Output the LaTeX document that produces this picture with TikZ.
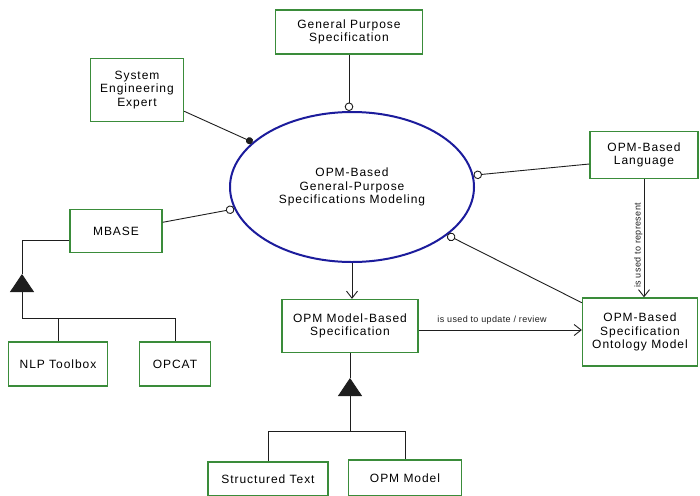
\documentclass[tikz,border=0pt]{standalone}
\usepackage{fontspec}
\setmainfont{Liberation Sans}
\newfontfamily\boxfont[LetterSpace=8]{Liberation Sans}
\newfontfamily\linkfont[LetterSpace=4]{Liberation Sans}
\usepackage{xcolor}
\usepackage{tikz}
\usetikzlibrary{arrows.meta}
\usetikzlibrary{shapes.geometric}
\usetikzlibrary{calc}
\usetikzlibrary{positioning}

\definecolor{objgreen}{RGB}{58,140,58}
\definecolor{procblue}{RGB}{28,28,156}
\definecolor{linkgray}{RGB}{30,30,30}

\begin{document}
\begin{tikzpicture}[x=1pt,y=-1pt,
	object/.style={draw=objgreen,line width=1.3pt,fill=white,align=center,inner sep=0pt,font=\boxfont\fontsize{12}{13.5}\selectfont},
	process/.style={ellipse,draw=procblue,line width=2pt,fill=white,align=center,inner sep=0pt,font=\boxfont\fontsize{12}{13.5}\selectfont},
	link/.style={draw=linkgray,line width=0.9pt},
	agent/.style={link,-{Circle[length=7pt]}},
	instr/.style={link,-{Circle[length=8.5pt,fill=white]}},
	result/.style={link,-{Straight Barb[length=7pt,width=11pt]}},
	gen/.style={link,-{Triangle[length=18pt,width=24pt]}},
	tag/.style={font=\linkfont\fontsize{9}{10}\selectfont,text=linkgray,inner sep=1pt}]
	\useasboundingbox (0,0) rectangle (700,495);

	\node[process,minimum width=244,minimum height=150] (opm) at (352,187) {OPM-Based\\General-Purpose\\Specifications Modeling};

	\node[object,minimum width=147,minimum height=44] (gps) at (349,32) {General Purpose\\Specification};
	\node[object,minimum width=93,minimum height=63] (expert) at (137,90) {System\\Engineering\\Expert};
	\node[object,minimum width=108,minimum height=47] (lang) at (644,155) {OPM-Based\\Language};
	\node[object,minimum width=92,minimum height=43] (mbase) at (116,231) {MBASE};
	\node[object,minimum width=136,minimum height=53] (mbs) at (350,326) {OPM Model-Based\\Specification};
	\node[object,minimum width=115,minimum height=68] (onto) at (640,332) {OPM-Based\\Specification\\Ontology Model};
	\node[object,minimum width=99,minimum height=44] (nlp) at (58,364) {NLP Toolbox};
	\node[object,minimum width=71,minimum height=44] (opcat) at (175,364) {OPCAT};
	\node[object,minimum width=120,minimum height=34] (text) at (268,479) {Structured Text};
	\node[object,minimum width=113,minimum height=36] (model) at (405,478) {OPM Model};

	\draw[instr] (gps.south) -- (gps.south |- opm.north);
	\draw[agent] (expert) -- (opm);
	\draw[instr] ([yshift=-9pt]lang.west) -- (opm);
	\draw[instr] (mbase) -- (opm);
	\draw[instr] (onto) -- (opm);
	\draw[result] (opm.south) -- (opm.south |- mbs.north);

	\draw[result] ([yshift=-4pt]mbs.east) -- ([yshift=-4pt]mbs.east -| onto.west) node[tag,pos=0.45,above=4pt] {is used to update / review};
	\draw[result] (lang.south) -- (lang.south |- onto.north) node[tag,pos=0.56,anchor=south,rotate=90] {is used to represent};

	\coordinate (mbasej) at (22,318);
	\coordinate (mbasetip) at (22,274);
	\draw[link] (mbasej) -| (nlp.north);
	\draw[link] (mbasej) -| (opcat.north);
	\draw[gen] (mbasej) -- (mbasetip);
	\draw[link] (mbasetip) |- ([yshift=-9pt]mbase.west);

	\coordinate (mbsj) at (350,431);
	\coordinate (mbstip) at (350,378);
	\draw[link] (mbsj) -| (text.north);
	\draw[link] (mbsj) -| (model.north);
	\draw[gen] (mbsj) -- (mbstip);
	\draw[link] (mbstip) -- (mbstip |- mbs.south);

\end{tikzpicture}
\end{document}
